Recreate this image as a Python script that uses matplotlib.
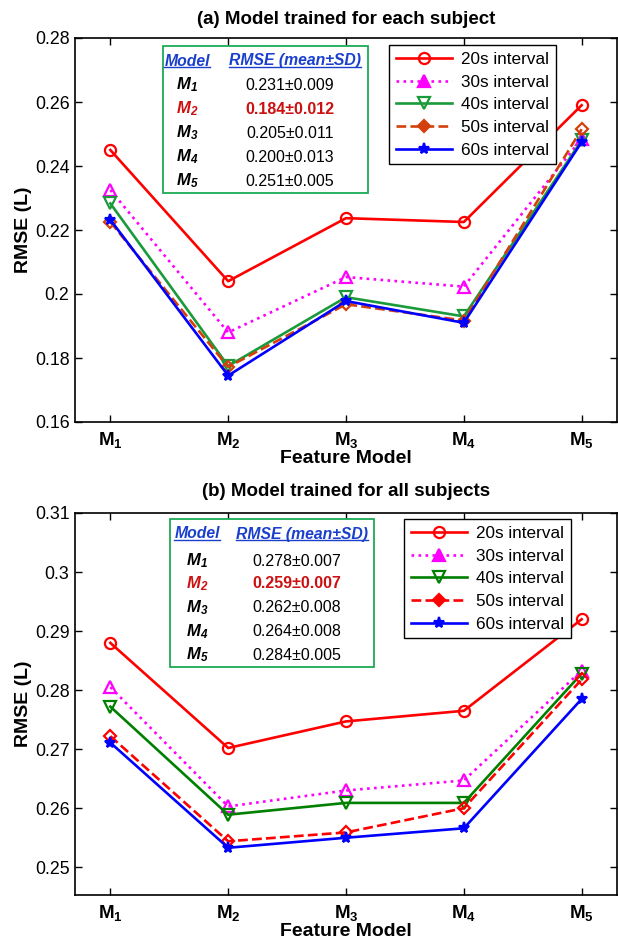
import matplotlib
matplotlib.use("Agg")
import matplotlib.pyplot as plt
from matplotlib.lines import Line2D
from matplotlib.patches import Rectangle

plt.rcParams['font.family'] = ['Liberation Sans', 'DejaVu Sans']
plt.rcParams['mathtext.fontset'] = 'custom'
plt.rcParams['mathtext.rm'] = 'Liberation Sans'
plt.rcParams['mathtext.bf'] = 'Liberation Sans:bold'
plt.rcParams['mathtext.it'] = 'Liberation Sans:italic'
plt.rcParams['mathtext.bfit'] = 'Liberation Sans:italic:bold'

# ---------------- data ----------------
models = [1, 2, 3, 4, 5]
model_labels = [r'$\mathbf{M}_\mathbf{%d}$' % i for i in models]
series_names = ['20s interval', '30s interval', '40s interval', '50s interval', '60s interval']

a_20s = [0.2450, 0.2040, 0.2237, 0.2225, 0.2590]
a_30s = [0.2325, 0.1880, 0.2053, 0.2023, 0.2485]
a_40s = [0.2283, 0.1775, 0.1990, 0.1930, 0.2480]
a_50s = [0.2225, 0.1772, 0.1968, 0.1917, 0.2515]
a_60s = [0.2232, 0.1745, 0.1978, 0.1910, 0.2475]

b_20s = [0.2880, 0.2702, 0.2747, 0.2765, 0.2920]
b_30s = [0.2805, 0.2603, 0.2630, 0.2647, 0.2833]
b_40s = [0.2772, 0.2589, 0.2609, 0.2609, 0.2828]
b_50s = [0.2722, 0.2544, 0.2559, 0.2600, 0.2818]
b_60s = [0.2711, 0.2533, 0.2550, 0.2566, 0.2785]

a_table = ['0.231±0.009', '0.184±0.012', '0.205±0.011', '0.200±0.013', '0.251±0.005']
b_table = ['0.278±0.007', '0.259±0.007', '0.262±0.008', '0.264±0.008', '0.284±0.005']

a_yticks = [0.16, 0.18, 0.20, 0.22, 0.24, 0.26, 0.28]
a_yticklabels = ['0.16', '0.18', '0.2', '0.22', '0.24', '0.26', '0.28']
b_yticks = [0.25, 0.26, 0.27, 0.28, 0.29, 0.30, 0.31]
b_yticklabels = ['0.25', '0.26', '0.27', '0.28', '0.29', '0.3', '0.31']

titles = ['(a) Model trained for each subject', '(b) Model trained for all subjects']

W, H = 618, 943
fig = plt.figure(figsize=(W / 100, H / 100), dpi=100)

def px(x, y):
    return x / W, 1 - y / H

ax_a = fig.add_axes([75 / W, 1 - 422 / H, 542 / W, 384 / H])
ax_b = fig.add_axes([75 / W, 1 - 895 / H, 542 / W, 382 / H])

styles_a = [
    dict(color='#ff0000', ls='-', marker='o', mfc='none', ms=8),
    dict(color='#ff00ff', ls=':', marker='^', mfc='none', ms=9),
    dict(color='#1a9a3a', ls='-', marker='v', mfc='none', ms=9),
    dict(color='#d4400c', ls='--', marker='D', mfc='none', ms=6.5),
    dict(color='#0000ff', ls='-', marker='*', mfc='#0000ff', ms=8),
]
styles_b = [
    dict(color='#ff0000', ls='-', marker='o', mfc='none', ms=8),
    dict(color='#ff00ff', ls=':', marker='^', mfc='none', ms=9),
    dict(color='#008000', ls='-', marker='v', mfc='none', ms=9),
    dict(color='#ff0000', ls='--', marker='D', mfc='none', ms=6.5),
    dict(color='#0000ff', ls='-', marker='*', mfc='#0000ff', ms=8),
]
legend_fill = [False, True, False, True, True]

def setup(ax, series, styles, yticks, yticklabels, ylim, title, leg_anchor, tpad):
    for vals, st in zip(series, styles):
        ax.plot(models, vals, lw=1.9, mew=1.6, **st)
    ax.set_xlim(0.7, 5.3)
    ax.set_ylim(*ylim)
    ax.set_xticks(models)
    ax.set_xticklabels(model_labels, fontsize=13.5)
    ax.set_yticks(yticks)
    ax.set_yticklabels(yticklabels, fontsize=12.8)
    ax.tick_params(direction='in', top=True, right=True, length=5, width=1, pad=4)
    ax.tick_params(axis='x', pad=6)
    for s in ax.spines.values():
        s.set_linewidth(1.2)
    ax.set_xlabel('Feature Model', fontsize=14, fontweight='bold', labelpad=0)
    ax.set_ylabel('RMSE (L)', fontsize=14, fontweight='bold', labelpad=2)
    ax.set_title(title, fontsize=13.5, fontweight='bold', pad=tpad)
    handles = []
    for st, fill, name in zip(styles, legend_fill, series_names):
        d = dict(st)
        if fill:
            d['mfc'] = d['color']
        handles.append(Line2D([], [], lw=1.9, mew=1.6, label=name, **d))
    leg = ax.legend(handles=handles, loc='upper left', bbox_to_anchor=leg_anchor,
                    fontsize=12.3, frameon=True, fancybox=False, framealpha=1,
                    edgecolor='black', handlelength=3.3, labelspacing=0.45,
                    handletextpad=0.5, borderpad=0.4, borderaxespad=0)
    leg.get_frame().set_linewidth(1.0)

setup(ax_a, [a_20s, a_30s, a_40s, a_50s, a_60s], styles_a, a_yticks, a_yticklabels,
      (0.16, 0.28), titles[0], ((389 - 75) / 542, (422 - 45) / 384), 10)
setup(ax_b, [b_20s, b_30s, b_40s, b_50s, b_60s], styles_b, b_yticks, b_yticklabels,
      (0.2453, 0.31), titles[1], ((404 - 75) / 542, (895 - 519) / 382), 12)

underlines = []

def table(box, header_y, rows_y, model_x, value_x, values):
    x0, y0, x1, y1 = box
    r = Rectangle(px(x0, y1), (x1 - x0) / W, (y1 - y0) / H, transform=fig.transFigure,
                  facecolor='white', edgecolor='#1daa55', lw=1.3, zorder=5)
    fig.patches.append(r)
    blue = '#1a3fcc'
    t1 = fig.text(*px(model_x, header_y), 'Model', color=blue, fontsize=11.3,
                  fontweight='bold', style='italic', ha='center', va='center', zorder=6)
    t2 = fig.text(*px(value_x + 5, header_y), 'RMSE (mean±SD)', color=blue, fontsize=11.3,
                  fontweight='bold', style='italic', ha='center', va='center', zorder=6)
    underlines.extend([(t1, blue), (t2, blue)])
    for i, (y, v) in enumerate(zip(rows_y, values)):
        red = (i == 1)
        c = '#cc1111' if red else 'black'
        fig.text(*px(model_x, y), r'$\mathbfit{M}_\mathbfit{%d}$' % (i + 1), color=c,
                 fontsize=12, ha='center', va='center', zorder=6)
        fig.text(*px(value_x, y), v, color=c, fontsize=11.5,
                 fontweight='bold' if red else 'normal', ha='center', va='center', zorder=6)

table((163, 46, 368, 193), 61, [85, 109, 133, 157, 181], 187, 290, a_table)
table((170, 519, 374, 667), 534, [561, 584, 608, 632, 655], 197, 297, b_table)

fig.canvas.draw()
r = fig.canvas.get_renderer()
for t, c in underlines:
    bb = t.get_window_extent(r)
    yb = bb.y0 + 1.5
    fig.lines.append(Line2D([bb.x0 / W, bb.x1 / W], [yb / H, yb / H], transform=fig.transFigure,
                            color=c, lw=1.0, zorder=7))

fig.savefig('out.png', dpi=100)
